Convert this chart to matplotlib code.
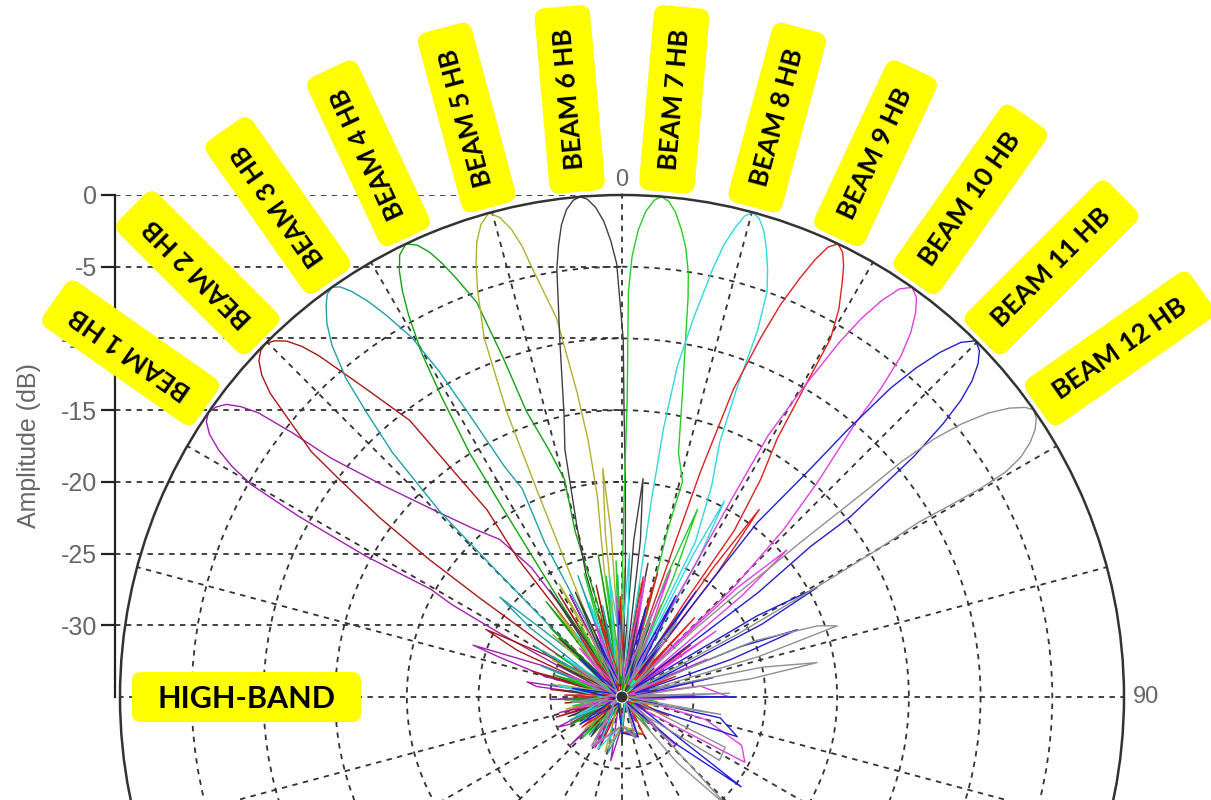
import numpy as np
import matplotlib
matplotlib.use('Agg')
import matplotlib.pyplot as plt
from matplotlib.patches import FancyBboxPatch
from matplotlib.transforms import IdentityTransform

# ─────────────────────────────────────────────
# Data: (angle deg clockwise from 0, amplitude dB)
# ─────────────────────────────────────────────

BEAM_1 = [(-180, -33), (-170, -30.5), (-163, -34), (-152, -31), (-143, -34.5), (-133, -30), (-125, -34),
          (-118, -31), (-115, -30), (-111, -34), (-104, -30.5), (-98, -34.5), (-92, -30), (-87, -34),
          (-83, -29), (-81, -28.3), (-78, -34), (-75, -29.5), (-72, -26), (-70.8, -24), (-68.5, -29),
          (-66.5, -34), (-64, -30), (-62.5, -25.5), (-61.5, -21.5), (-60.6, -19.7), (-61.2, -14.6),
          (-60.8, -9.2), (-60.2, -5.2), (-59.4, -3.4), (-58.5, -2), (-57.5, -0.9), (-56.5, -0.25),
          (-55.5, 0), (-54.5, -0.2), (-53.5, -0.7), (-52.7, -1.6), (-52, -2.8), (-51.3, -5.5),
          (-50.6, -8.8), (-48.3, -13), (-45.3, -16.4), (-41.5, -19.3), (-37.8, -21.1), (-35, -24),
          (-33, -29), (-31, -34), (-27, -27), (-24, -34.5), (-19, -30), (-15, -34), (-9, -29.5), (-5, -34),
          (1, -30.5), (6, -34.5), (12, -31), (19, -34), (27, -32), (36, -34.5), (48, -32.5), (60, -34.5),
          (75, -33), (90, -34.5), (110, -33), (130, -34.5), (150, -33), (165, -34.5), (180, -33)]

BEAM_2 = [(-180, -32.5), (-168, -34.5), (-156, -31), (-146, -34), (-136, -31.5), (-126, -34.5), (-117, -31),
          (-112, -34), (-107, -30.2), (-103, -34), (-96, -31), (-90, -34.5), (-84, -30), (-79, -34),
          (-74, -28.5), (-71, -33.5), (-66, -27), (-63.6, -24.4), (-61, -29), (-59, -34), (-56.5, -29),
          (-55.2, -23), (-54.5, -18.5), (-53.5, -14), (-52.4, -10.1), (-51.7, -7.4), (-50.2, -4.7),
          (-49.2, -2.6), (-48.2, -1.3), (-47.2, -0.5), (-46.2, -0.1), (-45.3, 0), (-44.3, -0.3),
          (-43.3, -0.9), (-42.4, -1.9), (-41.6, -3.2), (-39.7, -7.1), (-37.5, -10.7), (-36.8, -15),
          (-35.8, -18.9), (-37, -23), (-36.5, -28), (-34.5, -34), (-31.5, -26.5), (-28, -34),
          (-23, -29.5), (-19, -34), (-13, -27), (-9, -34.5), (-3, -30.5), (3, -34), (10, -30.5), (17, -34.5),
          (26, -31.5), (36, -34.5), (48, -32), (62, -34.5), (78, -32.5), (95, -34.5), (115, -33),
          (135, -34.5), (158, -32.5), (180, -32.5)]

BEAM_3 = [(-180, -33), (-166, -31), (-152, -34), (-139, -31.5), (-126, -34.5), (-114, -31), (-104, -34),
          (-95, -31.5), (-87, -34.5), (-80, -30), (-75, -34), (-69, -29), (-65, -34), (-60, -28),
          (-57, -33.5), (-53, -27), (-50.7, -24), (-48.5, -30), (-47, -34), (-45.5, -28), (-44.8, -22),
          (-44.5, -17), (-43.2, -11.6), (-41.9, -8.3), (-40.9, -5.6), (-39.5, -3.2), (-38.3, -1.8),
          (-37.1, -0.8), (-36.2, -0.2), (-35.3, 0), (-34.5, -0.3), (-33.7, -1), (-32.7, -2.2),
          (-31.7, -3.7), (-30.3, -6), (-29.3, -9), (-28.3, -13), (-27, -17), (-25.6, -18.9), (-26.6, -23),
          (-25.5, -29), (-23.5, -34), (-20, -26), (-17, -34), (-12, -28.5), (-8, -34), (-2, -26.5),
          (3, -34.5), (9, -30), (15, -34), (23, -31), (32, -34.5), (44, -32), (58, -34.5), (74, -32.5),
          (92, -34.5), (112, -32.5), (135, -34.5), (158, -32), (180, -33)]

BEAM_4 = [(-180, -32), (-164, -34.5), (-148, -31.5), (-133, -34), (-118, -31), (-105, -34.5), (-93, -31),
          (-82, -34), (-72, -30), (-64, -34.5), (-57, -29.5), (-51, -34), (-46, -28), (-42, -33.5),
          (-38.5, -26.5), (-36, -32), (-34.5, -34), (-33, -27), (-32.3, -20), (-32, -15), (-31, -10.5),
          (-30.2, -7.2), (-29.2, -4.5), (-28.4, -2.8), (-27.6, -1.5), (-26.7, -0.5), (-25.5, 0),
          (-24.4, -0.4), (-23.4, -1.2), (-22.5, -2.3), (-21.6, -3.6), (-20.2, -5.7), (-19.3, -10),
          (-18.5, -14), (-16.5, -17), (-14.8, -19.3), (-15.8, -23), (-14.5, -29), (-12.5, -34),
          (-9.5, -25), (-6.5, -34), (-1, -29), (3, -34.5), (9, -27), (14, -34), (21, -31), (29, -34.5),
          (39, -31.5), (50, -34.5), (64, -32), (80, -34.5), (98, -32.5), (118, -34.5), (140, -32),
          (160, -34.5), (180, -32)]

BEAM_5 = [(-180, -33), (-163, -31), (-147, -34.5), (-131, -31.5), (-116, -34), (-102, -31), (-90, -34.5),
          (-79, -30.5), (-70, -34), (-62, -29.5), (-55, -34), (-48, -28.5), (-43, -33.5), (-37, -27.5),
          (-33, -33), (-29, -26), (-26.5, -31.5), (-25, -34), (-23.3, -28), (-22.4, -20), (-22, -13.5),
          (-21, -8.2), (-19.5, -4.8), (-18.6, -3.1), (-17.7, -1.7), (-16.6, -0.6), (-15.4, 0),
          (-14.3, -0.5), (-13.3, -1.5), (-12.5, -2.8), (-11.8, -4.5), (-9.8, -8.2), (-8.4, -13.5),
          (-7.5, -17), (-7, -21), (-8, -26), (-7.2, -33), (-5.8, -23.5), (-4.8, -19), (-3.8, -23.5),
          (-2.5, -33.5), (1, -26), (5, -34), (11, -29.5), (16, -34.5), (23, -28), (31, -34),
          (41, -31.5), (53, -34.5), (68, -32), (85, -34.5), (104, -32.5), (125, -34.5), (150, -32),
          (180, -33)]

BEAM_6 = [(-180, -32), (-160, -34.5), (-142, -31.5), (-125, -34), (-110, -31), (-96, -34.5), (-84, -31),
          (-73, -34), (-63, -30), (-55, -34.5), (-47, -29), (-40, -34), (-34, -26), (-29, -33.5), (-24, -27),
          (-21, -32), (-18.5, -34), (-16.3, -26), (-14.8, -22.7), (-13, -17.3), (-11.6, -14.9),
          (-9.9, -9.8), (-8.65, -4.8), (-8, -3.2), (-7.3, -1.8), (-6.5, -0.8), (-5.6, -0.2), (-4.8, 0),
          (-4, -0.2), (-3.1, -0.8), (-2.2, -1.8), (-1.4, -3.2), (-0.7, -4.8), (0.2, -10.1), (0.4, -14.9),
          (0.9, -20), (1.5, -26), (2.6, -33), (4.3, -24), (5.5, -19.7), (6.7, -24), (8, -33.5),
          (11, -25.5), (15, -34), (21, -29.5), (27, -34.5), (35, -31), (44, -34), (56, -31.5), (70, -34.5),
          (88, -32), (108, -34.5), (130, -32.5), (155, -34.5), (180, -32)]

BEAM_7 = [(-180, -32.5), (-157, -34.5), (-136, -31), (-117, -34), (-100, -31.5), (-85, -34.5), (-71, -31),
          (-59, -34), (-48, -30.5), (-39, -34.5), (-31, -29), (-24, -33.5), (-17, -26), (-12, -33),
          (-7.5, -26.5), (-4.5, -32), (-2.5, -25.5), (-1, -31), (0.1, -27), (0.6, -21.2), (1, -14.2),
          (0.9, -6.8), (1.3, -4.3), (2, -2.4), (2.8, -1.1), (3.7, -0.3), (4.5, 0), (5.4, -0.3),
          (6.3, -1.0), (7.2, -2.1), (8.1, -3.4), (8.9, -5.1), (9.4, -6.8), (10.2, -10.1), (11.4, -13.8),
          (13, -17.5), (15.7, -19.4), (15.3, -23), (16.8, -29), (18.5, -34), (20.3, -26), (21.9, -20.9),
          (23.3, -26), (25, -33.5), (29, -29), (34, -34), (42, -30.5), (51, -34.5), (62, -31.5),
          (76, -34.5), (93, -32), (112, -34.5), (135, -32.5), (157, -34.5), (180, -32.5)]

BEAM_8 = [(-180, -33), (-155, -31), (-132, -34.5), (-112, -31.5), (-95, -34), (-80, -30.5), (-67, -34.5),
          (-56, -30), (-45, -34), (-36, -29.5), (-27, -34), (-19, -28), (-12, -33), (-6, -26.5), (-1, -31.5),
          (3, -25), (5.5, -31), (7.3, -34), (8.7, -27), (8.5, -21), (8.8, -16), (9.5, -11.6), (10.7, -8.1),
          (12, -4.4), (12.7, -2.7), (13.5, -1.4), (14.3, -0.4), (15.1, 0), (16, -0.3), (16.9, -1),
          (17.8, -2.1), (18.8, -3.5), (19.7, -5), (20.3, -7.8), (20.4, -12), (21, -16), (23, -19),
          (25.3, -23), (24.6, -30), (25.8, -34), (26.5, -24), (27.6, -19.6), (29, -24), (30.5, -33.5),
          (34, -28), (38, -34), (45, -29.5), (53, -34.5), (63, -31), (75, -34.5), (90, -32), (108, -34.5),
          (130, -32), (155, -34.5), (180, -33)]

BEAM_9 = [(-180, -32.5), (-152, -34.5), (-127, -31.5), (-106, -34.5), (-88, -31), (-72, -34.5), (-58, -31),
          (-46, -34), (-35, -30), (-25, -34.5), (-16, -29), (-8, -33.5), (-1, -28), (5, -33.5), (10, -26.5),
          (13.5, -31), (16, -26), (17.5, -33), (18.8, -28), (19, -24), (19.2, -18.4), (19.9, -12.2),
          (21.1, -8.2), (22, -5.5), (23, -3.3), (23.8, -1.7), (24.6, -0.5), (25.5, 0), (26.4, -0.4),
          (27.2, -1.2), (28, -2.3), (29.2, -4), (30.2, -6.1), (30.5, -10), (31, -14), (32.5, -17),
          (34, -21), (33.5, -27), (34.8, -33.5), (35.2, -24), (36.2, -18.8), (37.5, -24), (39, -33.5),
          (42.5, -27.5), (46, -34), (53, -29), (60, -34.5), (69, -31), (79, -34.5), (89, -30), (98, -34.5),
          (112, -31.5), (128, -34.5), (150, -32), (180, -32.5)]

BEAM_10 = [(-180, -33), (-150, -31), (-125, -34.5), (-103, -31.5), (-85, -34.5), (-68, -31), (-54, -34.5),
           (-41, -30.5), (-30, -34), (-20, -29.5), (-11, -34), (-3, -28), (5, -33.5), (11, -26.5),
           (16, -32.5), (21, -25.5), (24.5, -31.5), (27, -34), (28.8, -27), (29, -19.3), (29.2, -14.1),
           (30.3, -10.2), (31.5, -6), (32.3, -3.8), (33.2, -2), (34.2, -0.6), (35.3, 0), (36.4, -0.4),
           (37.4, -1.3), (38.4, -2.6), (39.3, -4.3), (40, -6.9), (40.5, -10.1), (42.3, -14.7), (44, -18.8),
           (45.5, -24), (44.5, -32), (46.5, -24), (48.3, -19.6), (49.8, -24), (51.5, -33.5), (55, -27),
           (59, -34), (66, -28.5), (73, -34.5), (82, -29.5), (90, -27.5), (96, -34), (105, -29), (112, -26),
           (118, -25.3), (123, -34), (132, -30), (145, -34.5), (162, -32), (180, -33)]

BEAM_11 = [(-180, -32.5), (-150, -34.5), (-123, -31.5), (-100, -34.5), (-80, -31.5), (-63, -34.5), (-48, -31),
           (-35, -34.5), (-23, -30.5), (-12, -34), (-2, -29), (7, -34), (15, -28.5), (22, -33.5), (28, -27),
           (32, -32.5), (35, -26), (36.5, -33), (37.5, -26), (37.8, -19.6), (39.4, -15), (40.2, -10.5),
           (41, -6.5), (41.8, -4.2), (42.7, -2.3), (43.7, -0.8), (44.8, 0), (45.9, -0.3), (46.9, -1),
           (47.9, -2.1), (48.8, -3.6), (49.6, -5.6), (50.5, -8.6), (51.7, -14.7), (51.4, -18.2),
           (52.5, -23), (52, -30), (54, -34), (59, -24), (60.7, -19.4), (62.5, -24), (64.5, -33), (67, -26),
           (69, -21.9), (71, -27), (73, -34), (78, -28.5), (84, -34), (90, -27), (95, -34.5), (102, -28),
           (109, -26.5), (116, -34), (127, -24.6), (131, -30), (140, -34.5), (158, -32), (180, -32.5)]

BEAM_12 = [(-180, -33), (-148, -31), (-120, -34.5), (-96, -31.5), (-75, -34.5), (-57, -31), (-41, -34.5),
           (-27, -31), (-14, -34), (-2, -30), (9, -34), (19, -29), (28, -33.5), (36, -28.5), (42, -32.5),
           (45, -34), (47, -28), (48, -24.5), (48.8, -21.5), (49.1, -18.5), (49.5, -15.6), (49.8, -12.5),
           (49.9, -9.6), (50.4, -6.8), (51.2, -4.6), (52.2, -2.7), (53.3, -1.3), (54.3, -0.4), (55.1, 0),
           (56.1, -0.2), (57.1, -0.7), (58.1, -1.5), (59, -2.6), (59.6, -4), (59.8, -6), (59.7, -8.5),
           (59.5, -11), (60, -14.4), (60.4, -18), (60.7, -20.7), (61.5, -26), (61, -32), (63, -34),
           (67, -25), (70, -20.5), (71.7, -19.2), (73.5, -25), (75.5, -33), (78, -25), (80, -21.2),
           (82, -26), (84.5, -34), (88, -27.5), (93, -34.5), (100, -28), (108, -34), (116, -27),
           (123, -26.9), (129, -33), (136, -24.3), (140, -29), (148, -34.5), (162, -32), (180, -33)]

BEAMS = [BEAM_1, BEAM_2, BEAM_3, BEAM_4, BEAM_5, BEAM_6,
         BEAM_7, BEAM_8, BEAM_9, BEAM_10, BEAM_11, BEAM_12]
BEAM_NAMES = ['BEAM 1 HB', 'BEAM 2 HB', 'BEAM 3 HB', 'BEAM 4 HB', 'BEAM 5 HB', 'BEAM 6 HB',
              'BEAM 7 HB', 'BEAM 8 HB', 'BEAM 9 HB', 'BEAM 10 HB', 'BEAM 11 HB', 'BEAM 12 HB']
LABEL_DEG = [-55, -45, -35, -25, -15, -5, 5, 15, 25, 35, 45, 55]
AMP_TICKS = [0, -5, -10, -15, -20, -25, -30]

COLORS = ['#a020b0', '#a81818', '#20a0a8', '#14a014', '#b0b030', '#404040',
          '#28cc28', '#30d8e0', '#e02020', '#e040e0', '#2020d0', '#909090']

# ─────────────────────────────────────────────
# Layout (pixels)
# ─────────────────────────────────────────────
W, H = 1211, 800
CX, CY, R = 622, 697, 502     # polar centre and 0 dB radius
AXIS_X = 115                  # left amplitude axis
GRID = dict(color='#333333', linestyle=(0, (3, 3)), linewidth=1.3)
GREY = '#666666'

fig = plt.figure(figsize=(W / 100, H / 100), dpi=100)
fig.patch.set_facecolor('white')

# left amplitude scale with horizontal guide lines
ax_y = fig.add_axes([AXIS_X / W, (H - CY) / H, (CX - AXIS_X) / W, R / H], zorder=0)
ax_y.set_facecolor('none')
ax_y.set_ylim(-35, 0)
ax_y.set_xlim(0, 1)
ax_y.set_yticks(AMP_TICKS)
ax_y.set_yticklabels([str(t) for t in AMP_TICKS], fontsize=18, color=GREY, family='Liberation Sans')
ax_y.set_xticks([])
for s in ['top', 'right', 'bottom']:
    ax_y.spines[s].set_visible(False)
ax_y.spines['left'].set_linewidth(1.6)
ax_y.spines['left'].set_color('#222222')
ax_y.tick_params(axis='y', length=10, width=1.6, color='#222222', pad=3)
ax_y.yaxis.grid(True, **GRID)
ax_y.set_ylabel('Amplitude (dB)', fontsize=18, color=GREY, family='Liberation Sans', labelpad=14)

# polar pattern plot
ax = fig.add_axes([(CX - R) / W, (H - CY - R) / H, 2 * R / W, 2 * R / H],
                  projection='polar', zorder=1)
ax.set_facecolor('none')
ax.set_theta_zero_location('N')
ax.set_theta_direction(-1)
ax.set_rlim(-35, 0)
ax.set_rticks([-30, -25, -20, -15, -10, -5])
ax.set_yticklabels([])
ax.set_thetagrids(np.arange(0, 360, 15), labels=[''] * 24)
ax.grid(True, **GRID)
ax.spines['polar'].set_color('#333333')
ax.spines['polar'].set_linewidth(1.8)

for beam, color in zip(BEAMS, COLORS):
    arr = np.array(beam, dtype=float)
    ax.plot(np.radians(arr[:, 0]), arr[:, 1], color=color, linewidth=1.0)

ax.text(0, 0.3, '0', ha='center', va='bottom', fontsize=17, color=GREY,
        family='Liberation Sans', clip_on=False)
ax.text(np.radians(90), 0.6, '90', ha='left', va='center', fontsize=17, color=GREY,
        family='Liberation Sans', clip_on=False)

# yellow beam tags, reading outward along each beam
for name, deg in zip(BEAM_NAMES, LABEL_DEG):
    ax.text(np.radians(deg), 1.45, ' ' + name + ' ', rotation=90 - deg, rotation_mode='anchor',
            ha='left', va='center', fontsize=19, fontweight='bold', family=['Lato', 'DejaVu Sans'],
            color='black', clip_on=False, zorder=10,
            bbox=dict(boxstyle='round,pad=0.6,rounding_size=0.4', fc='#ffff00', ec='none'))

# HIGH-BAND tag
box = FancyBboxPatch((132, H - 722), 229, 50, boxstyle='round,pad=0,rounding_size=9',
                     fc='#ffff00', ec='none', transform=IdentityTransform(), zorder=5)
fig.add_artist(box)
fig.text(246.5 / W, (H - 697) / H, 'HIGH-BAND', ha='center', va='center_baseline', fontsize=22,
         fontweight='bold', family=['Lato', 'DejaVu Sans'], zorder=6)

fig.savefig('out.png', dpi=100)
